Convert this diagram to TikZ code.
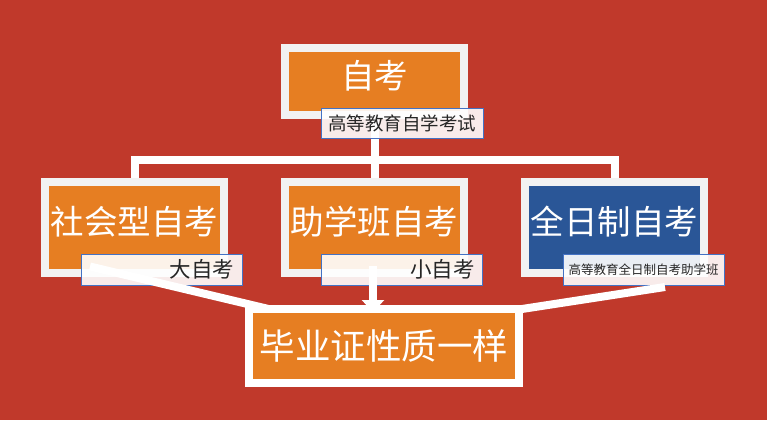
\documentclass[tikz,border=0pt]{standalone}
\usepackage{fontspec}
\newfontfamily\cjk{Noto Sans CJK SC}
\usetikzlibrary{shadows,arrows.meta}
\pgfdeclarelayer{back}
\pgfdeclarelayer{tree}
\pgfdeclarelayer{feed}
\pgfdeclarelayer{front}
\pgfsetlayers{back,tree,main,feed,front}
\definecolor{bgred}{RGB}{192,57,43}
\definecolor{boxorange}{RGB}{230,126,34}
\definecolor{boxblue}{RGB}{42,86,151}
\definecolor{rimgray}{RGB}{242,242,242}
\definecolor{tagblue}{RGB}{68,114,196}
\tikzset{
  card/.style={draw=rimgray, line width=8pt, fill=boxorange, text=white,
    minimum width=179pt, minimum height=91pt, inner sep=0pt,
    font=\cjk\fontsize{33.5}{33.5}\selectfont, text depth=14pt,
    drop shadow={shadow xshift=2pt, shadow yshift=-3pt, opacity=0.3}},
  tag/.style={draw=tagblue, line width=0.8pt, fill=white, fill opacity=0.9,
    text opacity=1, text=black!85, minimum width=161pt, minimum height=31pt,
    inner sep=0pt, font=\cjk\fontsize{21.5}{21.5}\selectfont},
  tagR/.style={text width=145pt, align=right},
  link/.style={draw=white, line width=8pt},
}

\begin{document}
\begin{tikzpicture}[x=1pt,y=-1pt]
  \begin{pgfonlayer}{back}
    \path[fill=bgred] (0,0) rectangle (767,420);
  \end{pgfonlayer}
  \useasboundingbox (0,0) rectangle (767,420);

  % top
  \node[card, minimum height=67pt] (zk) at (374.5,81.5) {自考};
  \node[tag, minimum width=162pt, minimum height=30pt,
    font=\cjk\fontsize{18.5}{18.5}\selectfont] (zkt) at (402,123) {高等教育自学考试};

  % three kinds
  \node[card] (shzk) at (134.5,227.5) {社会型自考};
  \node[card] (zxzk) at (374.5,227.5) {助学班自考};
  \node[card, fill=boxblue] (qrzk) at (614.5,227.5) {全日制自考};
  \node[tag, tagR] (dzk) at (161.5,269.5) {大自考};
  \node[tag, tagR] (xzk) at (402,269.5) {小自考};
  \node[tag, font=\cjk\fontsize{12.5}{12.5}\selectfont] (qrt) at (643.5,269.5) {高等教育全日制自考助学班};

  % bottom
  \begin{pgfonlayer}{front}
    \node[card, draw=white, minimum width=270pt, minimum height=74pt,
      text depth=, font=\cjk\fontsize{35.5}{35.5}\selectfont] (byz) at (384,346) {毕业证性质一样};
  \end{pgfonlayer}

  \coordinate (hub) at (374.5,160);
  \coordinate (dzk-s) at (90,266.5);
  \coordinate (xzk-s) at (373,266);
  \coordinate (qrt-s) at (665,287);
  \coordinate (byz-l) at (300,316.5);
  \coordinate (byz-t) at (373,312);
  \coordinate (byz-r) at (470,317);

  \begin{pgfonlayer}{tree}
    \draw[link] (zk) -- (hub);
    \draw[link] (shzk) |- (hub) -| (qrzk);
    \draw[link] (zxzk) -- (hub);
  \end{pgfonlayer}
  \begin{pgfonlayer}{feed}
    \draw[link] (dzk-s) -- (byz-l);
    \draw[link, -{Triangle[width=22pt,length=12pt]}] (xzk-s) -- (byz-t);
    \draw[link] (qrt-s) -- (byz-r);
  \end{pgfonlayer}
\end{tikzpicture}
\end{document}
